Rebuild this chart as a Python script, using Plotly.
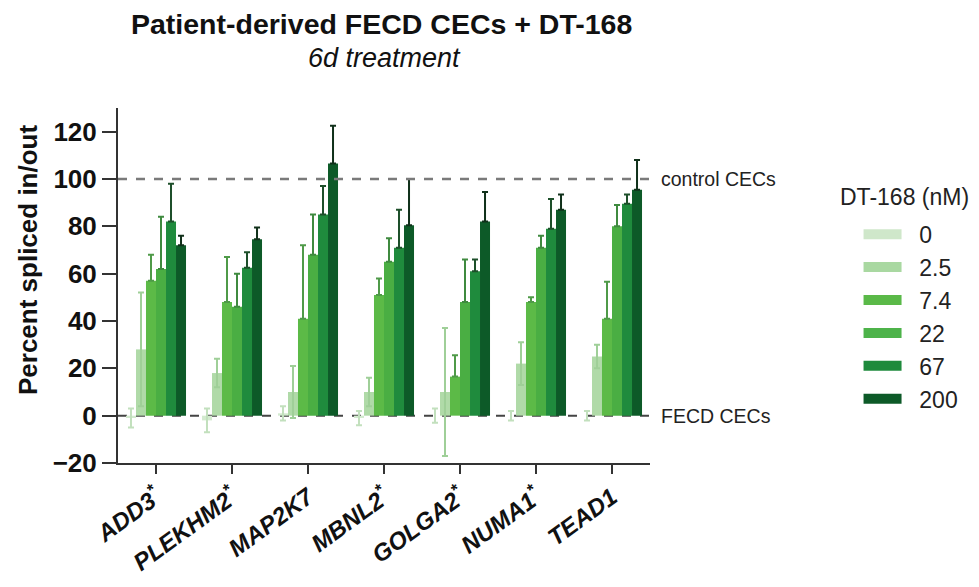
import plotly.graph_objects as go

genes = ["ADD3<sup>*</sup>", "PLEKHM2<sup>*</sup>", "MAP2K7", "MBNL2<sup>*</sup>",
         "GOLGA2<sup>*</sup>", "NUMA1<sup>*</sup>", "TEAD1"]
doses = ["0", "2.5", "7.4", "22", "67", "200"]

psi_0 = [-1, -2, 1, -1, 0, 0, 0]
err_0 = [4, 5, 3, 3, 3, 2, 2]
psi_2_5 = [28, 18, 10, 10, 10, 22, 25]
err_2_5 = [24, 6, 11, 6, 27, 9, 5]
psi_7_4 = [57, 48, 41, 51, 16.5, 48, 41]
err_7_4 = [11, 19, 31, 7, 9, 2, 15.6]
psi_22 = [62, 46, 68, 65, 48, 71, 80]
err_22 = [22, 14, 17, 10, 18, 5, 9]
psi_67 = [82, 62.5, 85, 71, 61, 79, 89.5]
err_67 = [16, 6.5, 12, 16, 5, 12.5, 4]
psi_200 = [72, 74.5, 106.5, 80.5, 82, 87, 95.5]
err_200 = [4, 5, 16, 19.5, 12.5, 6.5, 12.5]

values = [psi_0, psi_2_5, psi_7_4, psi_22, psi_67, psi_200]
errors = [err_0, err_2_5, err_7_4, err_22, err_67, err_200]
colors = ["#d3eacf", "#b0daa8", "#5cba47", "#4aae43", "#1f8b3d", "#0d5a28"]
legend_colors = ["#cfe7ca", "#a9d8a1", "#5ab948", "#4db34a", "#1e8a3c", "#0d5a28"]
err_colors = ["#c2e0bd", "#9fcf98", "#4f9a48", "#3f8a3f", "#1d4f2a", "#10301a"]
both_sides = [True, True, False, False, False, False]

control_level = 100
fecd_level = 0

font = "Liberation Sans, Arial, sans-serif"

fig = go.Figure()
for d, v, e, c, ec, both in zip(doses, values, errors, colors, err_colors, both_sides):
    fig.add_trace(go.Bar(
        x=genes, y=v, name=d, showlegend=False,
        marker=dict(color=c, line=dict(width=0)),
        error_y=dict(type="data", array=e, arrayminus=e if both else [0] * len(e),
                     symmetric=False, color=ec, thickness=2, width=3),
    ))
# legend-only entries with wide swatches
for d, c in zip(doses, legend_colors):
    fig.add_trace(go.Scatter(x=[None], y=[None], mode="lines", name="\u00a0\u00a0" + d,
                             line=dict(color=c, width=14), hoverinfo="skip"))

fig.add_shape(type="line", xref="x domain", yref="y", x0=0, x1=1,
              y0=control_level, y1=control_level,
              line=dict(color="#7a7a7a", width=2.5, dash="dash"))
fig.add_shape(type="line", xref="x domain", yref="y", x0=0, x1=1,
              y0=fecd_level, y1=fecd_level,
              line=dict(color="#444444", width=2, dash="dash"), layer="below")
fig.add_annotation(xref="paper", yref="y", x=1.016, y=control_level, text="control CECs",
                   showarrow=False, xanchor="left", font=dict(family=font, size=19.5, color="#222"))
fig.add_annotation(xref="paper", yref="y", x=1.016, y=fecd_level, text="FECD CECs",
                   showarrow=False, xanchor="left", font=dict(family=font, size=19.5, color="#222"))
fig.add_annotation(xref="paper", yref="paper", x=0.496, y=1.238, yanchor="middle",
                   text="<b>Patient-derived FECD CECs + DT-168</b>", showarrow=False,
                   font=dict(family=font, size=28.5, color="#111"))
fig.add_annotation(xref="paper", yref="paper", x=0.5, y=1.141, yanchor="middle",
                   text="<i>6d treatment</i>", showarrow=False,
                   font=dict(family=font, size=27, color="#111"))
fig.add_annotation(xref="paper", yref="paper", x=-0.169, y=0.572, textangle=-90,
                   xanchor="center", yanchor="middle",
                   text="<b>Percent spliced in/out</b>", showarrow=False,
                   font=dict(family=font, size=26, color="#111"))
fig.add_annotation(xref="paper", yref="paper", x=1.353, y=0.749, xanchor="left", yanchor="middle",
                   text="DT-168 (nM)", showarrow=False,
                   font=dict(family=font, size=23, color="#222"))

fig.update_layout(
    width=979, height=587,
    margin=dict(l=110, r=337, t=100, b=132),
    paper_bgcolor="white", plot_bgcolor="white",
    barmode="group", bargap=0.21, bargroupgap=0,
    font=dict(family=font, color="#111"),
    yaxis=dict(
        range=[-20, 130], tickvals=[-20, 0, 20, 40, 60, 80, 100, 120],
        ticks="outside", ticklen=14, tickwidth=2, tickcolor="#333",
        showline=True, linecolor="#333", linewidth=2, showgrid=False, zeroline=False,
        tickfont=dict(family=font, size=26, color="#111", weight="bold"),
        automargin=False,
    ),
    xaxis=dict(
        ticks="outside", ticklen=9, tickwidth=2, tickcolor="#333",
        showline=True, linecolor="#333", linewidth=2, showgrid=False,
        tickangle=-36, automargin=False,
        tickfont=dict(family=font, size=24, color="#111", weight="bold", style="italic"),
    ),
    legend=dict(
        x=1.392, xanchor="left", y=0.705, yanchor="top",
        font=dict(family=font, size=23, color="#222"),
        itemwidth=38,
    ),
)

fig.write_html("out.html")
